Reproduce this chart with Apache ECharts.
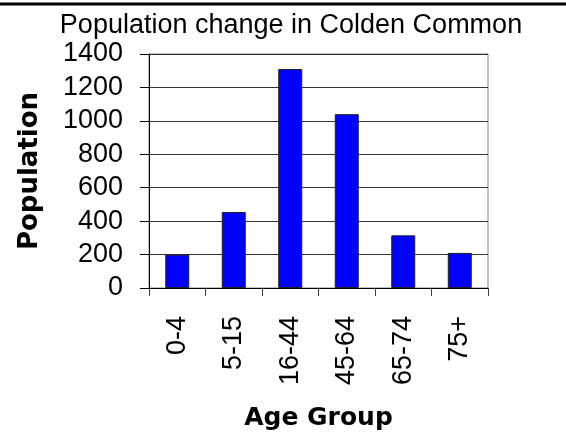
<!DOCTYPE html>
<html>
<head>
<meta charset="utf-8">
<script src="https://cdn.jsdelivr.net/npm/echarts@6/dist/echarts.min.js"></script>
<style>html,body{margin:0;padding:0;background:#fff}#c{width:566px;height:432px}</style>
</head>
<body>
<div id="c"></div>
<script>
const categories = ['0-4', '5-15', '16-44', '45-64', '65-74', '75+'];
const population = [200, 455, 1310, 1040, 315, 210];
const yTicks = [0, 200, 400, 600, 800, 1000, 1200, 1400];

const chart = echarts.init(document.getElementById('c'), null, {renderer: 'canvas'});
chart.setOption({
  animation: false,
  backgroundColor: '#ffffff',
  title: {
    text: 'Population change in Colden Common',
    left: 286, top: 7, textAlign: 'center',
    textStyle: {fontFamily: 'Liberation Sans', fontSize: 27, fontWeight: 'normal', color: '#000'}
  },
  graphic: [{
    type: 'line', shape: {x1: 0, y1: 4, x2: 566, y2: 4},
    style: {stroke: '#000', lineWidth: 3}
  }],
  grid: {left: 149, right: 78, top: 54, bottom: 144, containLabel: false, outerBoundsMode: 'none',
    show: true, borderColor: '#808080', borderWidth: 1, backgroundColor: 'transparent'},
  xAxis: {
    type: 'category', data: categories,
    name: 'Age Group', nameLocation: 'middle', nameGap: 118,
    nameTextStyle: {fontFamily: 'DejaVu Sans', fontWeight: 'bold', fontSize: 25, color: '#000'},
    axisLine: {lineStyle: {color: '#000', width: 1}},
    axisTick: {show: true, alignWithLabel: false, length: 8, lineStyle: {color: '#404040'}},
    axisLabel: {rotate: 90, margin: 28, fontFamily: 'Liberation Sans', fontSize: 27, color: '#000'}
  },
  yAxis: {
    type: 'value', min: yTicks[0], max: yTicks[yTicks.length - 1], interval: 200,
    name: 'Population', nameLocation: 'middle', nameGap: 106,
    nameTextStyle: {fontFamily: 'DejaVu Sans', fontWeight: 'bold', fontSize: 26, color: '#000'},
    axisLine: {show: true, lineStyle: {color: '#000', width: 1}},
    axisTick: {show: true, length: 9, lineStyle: {color: '#000'}},
    axisLabel: {margin: 26, fontFamily: 'Liberation Sans', fontSize: 27, color: '#000', formatter: v => String(v)},
    splitLine: {show: true, lineStyle: {color: '#333', width: 1}}
  },
  series: [{
    type: 'bar', data: population, barWidth: 24,
    itemStyle: {color: '#0000ff', borderColor: '#202020', borderWidth: 1}
  }]
});
</script>
</body>
</html>
